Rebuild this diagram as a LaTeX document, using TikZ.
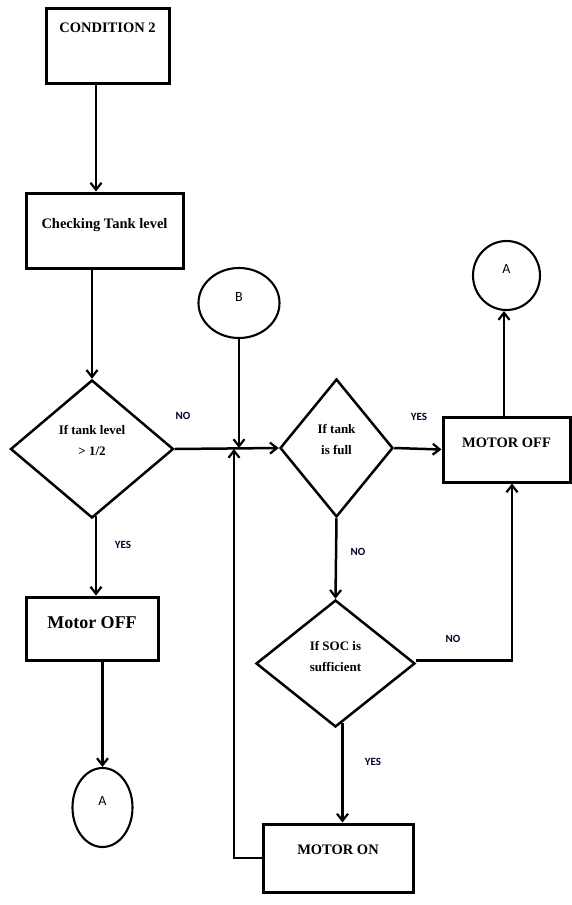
\documentclass[tikz,border=0pt]{standalone}
\usepackage{fontspec}
\setmainfont{Liberation Serif}
\newfontfamily\lblfont{Carlito}
\usepackage{tikz}
\usetikzlibrary{arrows.meta,positioning,shapes.geometric,calc}
\tikzset{
  procbox/.style={rectangle,draw=black,line width=3pt,inner sep=0pt,
                  font=\fontsize{14.5}{16}\selectfont\bfseries,align=center},
  decbox/.style={diamond,draw=black,line width=2.5pt,inner sep=0pt,
                 font=\fontsize{13}{15}\selectfont\bfseries,align=center,
                 text depth=17pt},
  conn/.style={ellipse,draw=black,line width=2.1pt,inner sep=0pt,
               font=\lblfont\fontsize{14}{16}\selectfont,
               text height=9pt,text depth=13pt},
  arr/.style={-{Straight Barb[length=7pt,width=11pt,line width=2.2pt]},line width=2.5pt},
  yesno/.style={font=\lblfont\bfseries\fontsize{11}{13}\selectfont,text=black!85!blue,inner sep=0pt},
}
\begin{document}
\begin{tikzpicture}[x=1pt,y=-1pt]
  \useasboundingbox (0,0) rectangle (571,905);

  % left column
  \node[procbox,minimum width=123pt,text height=24pt,text depth=51pt]
       (cond) at (107.5,45.5) {CONDITION 2};
  \node[procbox,minimum width=157pt,text height=35pt,text depth=40pt]
       (check) at (104.5,230.5) {Checking Tank level};
  \node[decbox,minimum width=163pt,minimum height=138pt]
       (tanklvl) at (92,449) {If tank level\\[6pt] > 1/2};
  \node[procbox,minimum width=132pt,text height=31pt,text depth=32pt,
        font=\fontsize{18}{20}\selectfont\bfseries]
       (offleft) at (92,628.5) {Motor OFF};
  \node[conn,minimum width=60pt,minimum height=79pt] (conA) at (102.5,807.5) {A};

  % right part
  \node[conn,minimum width=81pt,minimum height=70pt] (conB) at (239,303) {B};
  \node[decbox,minimum width=113pt,minimum height=138pt]
       (tankfull) at (336.5,448) {If tank\\[6pt] is full};
  \node[procbox,minimum width=127pt,text height=30pt,text depth=35pt]
       (offright) at (506.5,449.5) {MOTOR OFF};
  \node[conn,minimum width=67pt,minimum height=69pt] (conAtop) at (506.5,275.5) {A};
  \node[decbox,minimum width=159pt,minimum height=127pt,text depth=15pt]
       (soc) at (335.5,663.5) {If SOC is\\[6pt] sufficient};
  \node[procbox,minimum width=150pt,text height=30pt,text depth=38pt]
       (moton) at (338,858) {MOTOR ON};

  \coordinate (jn) at (conB.south |- tankfull.west);

  % connectors
  \draw[arr] ([xshift=-11.5pt]cond.south) -- ([xshift=-11.5pt]cond.south |- check.north);
  \draw[arr] (check.south -| tanklvl.north) -- (tanklvl.north);
  \draw[arr] ([xshift=4pt,yshift=3pt]tanklvl.south) -- ([xshift=4pt]tanklvl.south |- offleft.north);
  \draw[arr] (offleft.south -| conA.north) -- (conA.north);
  \draw[arr] (tanklvl.east) -- (tankfull.west);
  \draw[arr] (conB.south) -- (jn);
  \draw[arr] (moton.west) -| ([xshift=-5pt,yshift=-1pt]jn);
  \draw[arr] (tankfull.east) -- (offright.west);
  \draw[arr] ([xshift=-2.5pt]offright.north) -- ([xshift=-2.5pt]offright.north |- conAtop.south);
  \draw[arr] (tankfull.south) -- (soc.north);
  \draw[arr] ([yshift=3pt]soc.east) -| ([xshift=5.5pt]offright.south);
  \draw[arr] ([xshift=7pt,yshift=5pt]soc.south) -- ([xshift=7pt]soc.south |- moton.north);

  % labels
  \node[yesno] (noA)  at (183,416) {NO};
  \node[yesno] (yesA) at (123,545) {YES};
  \node[yesno] (yesB) at (419,417) {YES};
  \node[yesno] (noB)  at (358,552) {NO};
  \node[yesno] (noC)  at (453,639) {NO};
  \node[yesno] (yesC) at (373,762) {YES};
\end{tikzpicture}
\end{document}
